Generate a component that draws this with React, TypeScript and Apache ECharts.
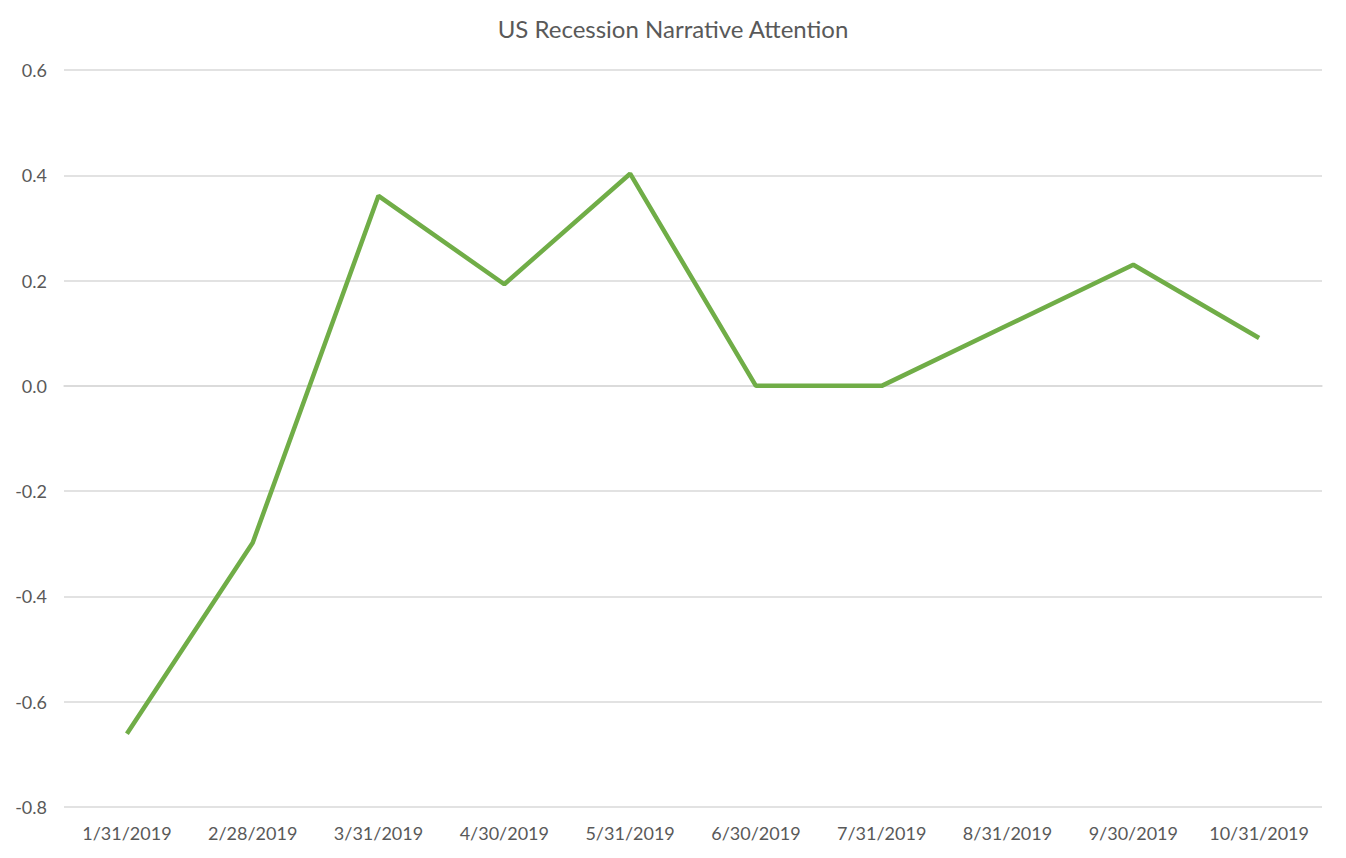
import React, { useEffect, useRef } from "react";
import * as echarts from "echarts";

const categories = ["1/31/2019", "2/28/2019", "3/31/2019", "4/30/2019", "5/31/2019", "6/30/2019", "7/31/2019", "8/31/2019", "9/30/2019", "10/31/2019"];
const values = [-0.661, -0.298, 0.361, 0.193, 0.403, 0.0, 0.0, 0.115, 0.23, 0.091];
const yTicks = { min: -0.8, max: 0.6, interval: 0.2 };
const title = "US Recession Narrative Attention";

const FONT = "Lato";

export default function App() {
  const ref = useRef<HTMLDivElement>(null);
  useEffect(() => {
    const chart = echarts.init(ref.current!, null, { renderer: "svg" });
    chart.setOption({
      animation: false,
      title: {
        text: title,
        left: "center",
        top: 11,
        textStyle: { fontFamily: FONT, fontSize: 24, fontWeight: "normal", color: "#595959" },
      },
      grid: { left: 64, right: 24, top: 70, bottom: 51, containLabel: false },
      xAxis: {
        type: "category",
        data: categories,
        boundaryGap: true,
        axisLine: { show: true, lineStyle: { color: "#d9d9d9", width: 1.5 } },
        axisTick: { show: false },
        axisLabel: { color: "#595959", fontFamily: FONT, fontSize: 18, margin: 17, interval: 0 },
      },
      yAxis: {
        type: "value",
        min: yTicks.min,
        max: yTicks.max,
        interval: yTicks.interval,
        axisLine: { show: false },
        axisTick: { show: false },
        splitLine: { lineStyle: { color: "#d9d9d9", width: 1.5 } },
        axisLabel: {
          color: "#595959",
          fontFamily: FONT,
          fontSize: 18,
          margin: 17,
          formatter: (v: number) => v.toFixed(1),
        },
      },
      series: [
        {
          type: "line",
          data: values,
          showSymbol: false,
          symbol: "none",
          lineStyle: { color: "#70AD47", width: 4.5 },
        },
      ],
    });
    return () => chart.dispose();
  }, []);
  return <div ref={ref} style={{ position: "fixed", left: 0, top: 0, width: 1346, height: 858, background: "#fff" }} />;
}
